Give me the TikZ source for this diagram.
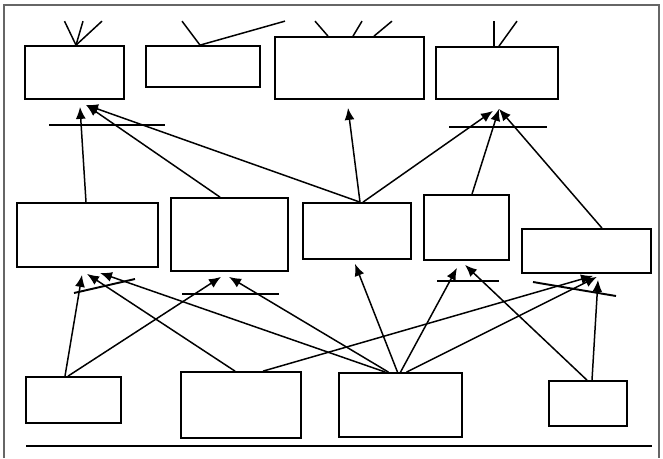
\documentclass[tikz,border=0pt]{standalone}
\usepackage{tikz}
\usetikzlibrary{arrows.meta, positioning, calc}
\tikzset{
    box/.style 2 args={draw, line width=1pt, minimum width=#1*0.02cm,
        minimum height=#2*0.02cm, inner sep=0pt},
    link/.style={-{Latex[length=2.4mm, width=2mm]}, line width=0.85pt},
    stub/.style={line width=0.85pt},
    bar/.style={line width=1.1pt},
    frame/.style={line width=1.2pt, black!60},
}

\begin{document}
\begin{tikzpicture}[x=0.02cm, y=-0.02cm]
        \useasboundingbox (0,0) rectangle (663,458);
        \draw[frame] (4,458) -- (4,5) -- (659,5) -- (659,458);
        \draw[bar] (26,446) -- (652,446);

        % top row
        \node[box={99}{53}]  (T1) at (74.5,72.5) {};
        \node[box={114}{41}] (T2) at (203,66.5)  {};
        \node[box={149}{62}] (T3) at (349.5,68)  {};
        \node[box={122}{52}] (T4) at (497,73)    {};

        % middle row
        \node[box={141}{64}] (M1) at (87.5,235)   {};
        \node[box={117}{73}] (M2) at (229.5,234.5) {};
        \node[box={108}{56}] (M3) at (357,231)    {};
        \node[box={85}{65}]  (M4) at (466.5,227.5) {};
        \node[box={129}{44}] (M5) at (586.5,251)  {};

        % bottom row
        \node[box={95}{46}]  (B1) at (73.5,400)   {};
        \node[box={120}{66}] (B2) at (241,405)    {};
        \node[box={123}{64}] (B3) at (400.5,405)  {};
        \node[box={78}{45}]  (B4) at (588,403.5)  {};

        % stubs above the top row
        \foreach \dx in {-11.5,7,26} {
            \draw[stub] ([shift={(1.5,0)}]T1.north) -- ++(\dx,-24);
        }
        \draw[stub] ([shift={(-3,0)}]T2.north) -- ++(-18,-24);
        \draw[stub] ([shift={(-3,0)}]T2.north) -- ++(85,-24);
        \draw[stub] ([shift={(-21.5,0)}]T3.north) -- ++(-13,-15);
        \draw[stub] ([shift={(3.5,0)}]T3.north) -- ++(9,-15);
        \draw[stub] ([shift={(24.5,0)}]T3.north) -- ++(18,-15);
        \draw[stub] ([shift={(-3,0)}]T4.north) -- ++(0,-25);
        \draw[stub] ([shift={(2,0)}]T4.north) -- ++(18,-25);

        % bars
        \draw[bar] (49,125) -- (165,125);
        \draw[bar] (449,127) -- (547,127);
        \draw[bar] (74,293) -- (135,279);
        \draw[bar] (182,294) -- (279,294);
        \draw[bar] (437,281) -- (499,281);
        \draw[bar] (533,282) -- (616,296);

        % middle -> top
        \draw[link] ([shift={(-1.5,0)}]M1.north) -- ([shift={(5.5,7)}]T1.south);
        \draw[link] ([shift={(-9.5,0)}]M2.north) -- ([shift={(11.5,5)}]T1.south);
        \draw[link] ([shift={(3,0)}]M3.north) -- ([shift={(11.5,5)}]T1.south);
        \draw[link] ([shift={(3,0)}]M3.north) -- ([shift={(-1.5,8)}]T3.south);
        \draw[link] ([shift={(6,0)}]M3.north) -- ([shift={(-4,11)}]T4.south);
        \draw[link] ([shift={(5.5,0)}]M4.north) -- ([shift={(2,9)}]T4.south);
        \draw[link] ([shift={(15.5,0)}]M5.north) -- ([shift={(2,9)}]T4.south);

        % bottom -> middle
        \draw[link] ([shift={(-8.5,0)}]B1.north) -- ([shift={(-5.5,7)}]M1.south);
        \draw[link] ([shift={(-5.5,0)}]B1.north) -- ([shift={(-8.5,5)}]M2.south);
        \draw[link] ([shift={(-6,0)}]B2.north) -- ([shift={(-0.5,6)}]M1.south);
        \draw[link] ([shift={(22,0)}]B2.north) -- ([shift={(6.5,2)}]M5.south);
        \draw[link] ([shift={(-15,0)}]B3.north) -- ([shift={(12.5,5)}]M1.south);
        \draw[link] ([shift={(-12,0)}]B3.north) -- ([shift={(-0.5,5)}]M2.south);
        \draw[link] ([shift={(-3,0)}]B3.north) -- ([shift={(-2,4)}]M3.south);
        \draw[link] ([shift={(0,0)}]B3.north) -- ([shift={(-9.5,7)}]M4.south);
        \draw[link] ([shift={(6,0)}]B3.north) -- ([shift={(10.5,3)}]M5.south);
        \draw[link] ([shift={(-1,0)}]B4.north) -- ([shift={(-1.5,4)}]M4.south);
        \draw[link] ([shift={(4,0)}]B4.north) -- ([shift={(11.5,6)}]M5.south);
    \end{tikzpicture}
\end{document}
